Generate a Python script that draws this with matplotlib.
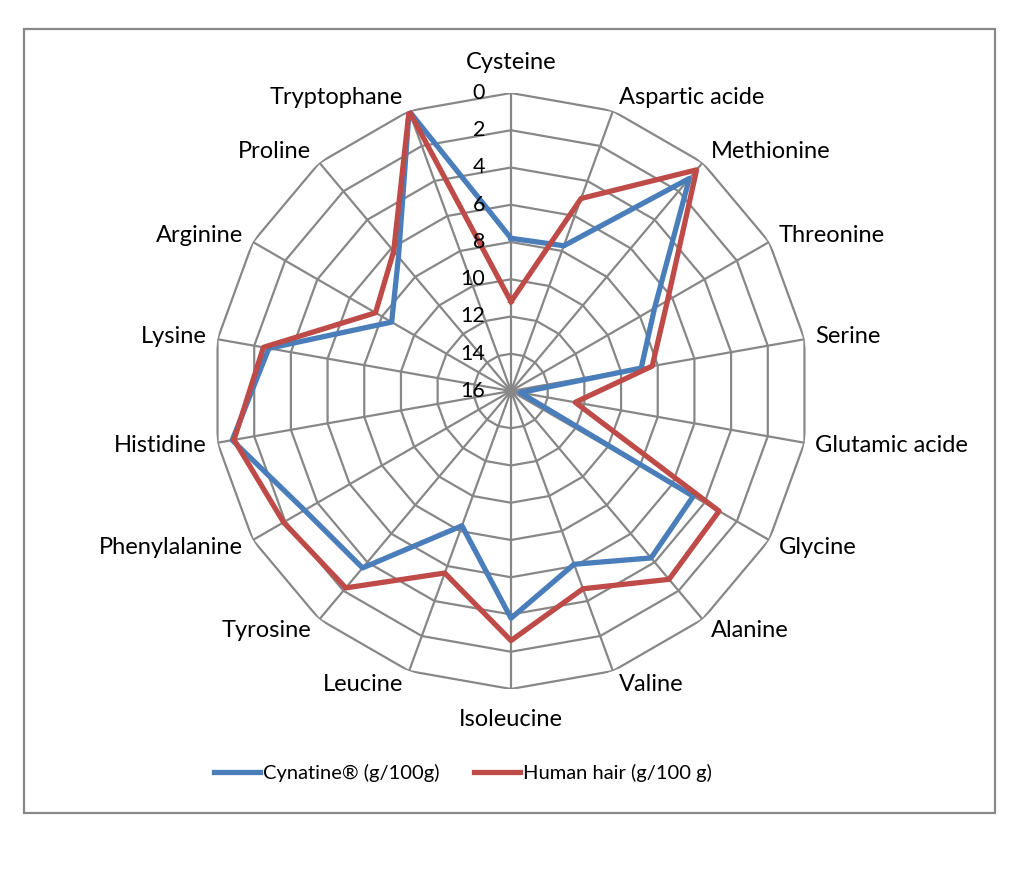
import numpy as np
import matplotlib
matplotlib.use("Agg")
import matplotlib.pyplot as plt
from matplotlib.patches import Rectangle
from matplotlib.lines import Line2D

plt.rcParams['font.family'] = ['Lato', 'DejaVu Sans']

# Données (échelle inversée : 0 à l'extérieur, 16 au centre)
categories = ['Cysteine', 'Aspartic acide', 'Methionine', 'Threonine', 'Serine',
              'Glutamic acide', 'Glycine', 'Alanine', 'Valine', 'Isoleucine',
              'Leucine', 'Tyrosine', 'Phenylalanine', 'Histidine', 'Lysine',
              'Arginine', 'Proline', 'Tryptophane']
cynatine = [7.8, 7.7, 1.1, 7.1, 8.9, 15.5, 4.7, 4.3, 6.1, 3.8,
            8.3, 3.6, 3.2, 0.8, 2.8, 8.6, 6.6, 0.0]
human_hair = [11.2, 5.0, 0.5, 6.3, 8.3, 12.5, 3.1, 2.8, 4.7, 2.6,
              5.6, 2.2, 1.9, 0.9, 2.5, 7.6, 6.2, 0.0]
ring_values = [0, 2, 4, 6, 8, 10, 12, 14, 16]
series_names = ['Cynatine® (g/100g)', 'Human hair (g/100 g)']

BLUE = '#4a7ebb'
RED = '#be4b48'
GRID = '#878787'

n = len(categories)
theta = np.arange(n) * 2 * np.pi / n
theta_closed = np.append(theta, theta[0])

fig = plt.figure(figsize=(10.24, 8.71), dpi=100)
fig.add_artist(Rectangle((24 / 1024, 1 - 813 / 871), 971 / 1024, 784 / 871,
                         transform=fig.transFigure, fill=False,
                         edgecolor='#888888', linewidth=1.6))

ax = fig.add_axes([213 / 1024, 182 / 871, 596 / 1024, 596 / 871], polar=True)
ax.set_theta_zero_location('N')
ax.set_theta_direction(-1)
ax.set_ylim(16, 0)
ax.grid(False)
ax.spines['polar'].set_visible(False)
ax.set_xticks([])
ax.set_yticks([])
ax.patch.set_visible(False)

# toile d'araignée
for r in ring_values[:-1]:
    ax.plot(theta_closed, [r] * (n + 1), color=GRID, lw=1.6, zorder=1)
for t in theta:
    ax.plot([t, t], [16, 0], color=GRID, lw=1.6, zorder=1)

ax.plot(theta_closed, cynatine + cynatine[:1], color=BLUE, lw=3.8, zorder=3)
ax.plot(theta_closed, human_hair + human_hair[:1], color=RED, lw=3.8, zorder=4)

# valeurs de l'axe
for r in ring_values:
    ax.annotate(str(r), xy=(0, r), xytext=(-26, 0), textcoords='offset pixels',
                ha='right', va='center', fontsize=15.5, color='black',
                annotation_clip=False, zorder=5)

# noms des acides aminés
for t, name in zip(theta, categories):
    s, c = np.sin(t), np.cos(t)
    if abs(s) < 0.01:
        ha, dx, dy = 'center', 0, 30 * c
    else:
        ha = 'left' if s > 0 else 'right'
        dx = np.sign(s) * (3 + 8 * abs(s))
        dy = 14 * c
    ax.annotate(name, xy=(t, 0), xytext=(dx, dy), textcoords='offset pixels',
                ha=ha, va='center', fontsize=17, annotation_clip=False)

handles = [Line2D([], [], color=BLUE, lw=3.8), Line2D([], [], color=RED, lw=3.8)]
fig.legend(handles, series_names, loc='center', bbox_to_anchor=(0.452, 1 - 773 / 871),
           ncol=2, frameon=False, fontsize=14.5, handlelength=2.3,
           handletextpad=0.15, columnspacing=1.7)

fig.savefig('out.png', dpi=100)
